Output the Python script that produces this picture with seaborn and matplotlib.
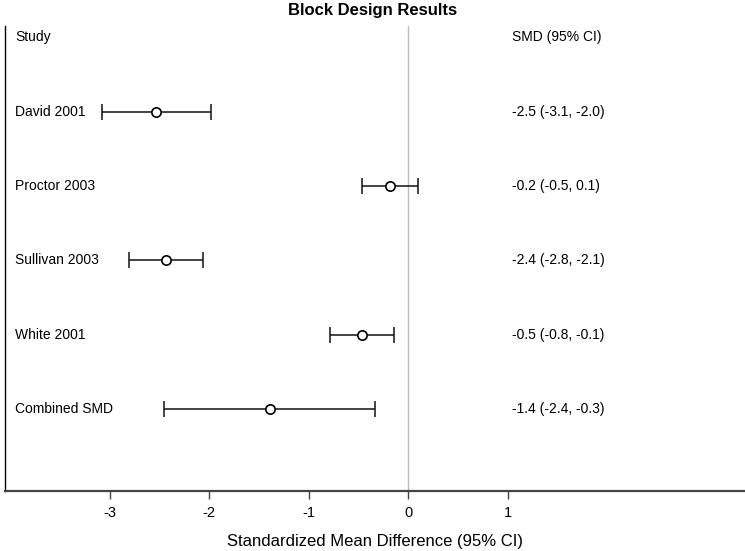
import matplotlib
matplotlib.use("Agg")
import matplotlib.pyplot as plt
import matplotlib.transforms as mtransforms
import seaborn as sns
import pandas as pd

# forest plot data
studies = ["David 2001", "Proctor 2003", "Sullivan 2003", "White 2001", "Combined SMD"]
smd = [-2.53, -0.18, -2.43, -0.47, -1.39]
ci_low = [-3.08, -0.47, -2.80, -0.79, -2.45]
ci_high = [-1.98, 0.10, -2.06, -0.14, -0.33]
ci_text = ["-2.5 (-3.1, -2.0)", "-0.2 (-0.5, 0.1)", "-2.4 (-2.8, -2.1)",
           "-0.5 (-0.8, -0.1)", "-1.4 (-2.4, -0.3)"]
xticks = [-3, -2, -1, 0, 1]

df = pd.DataFrame({"study": studies, "smd": smd, "lo": ci_low, "hi": ci_high,
                   "row": range(1, len(studies) + 1)})

sns.set_theme(style="white")
plt.rcParams['font.family'] = ['Liberation Sans', 'DejaVu Sans']
plt.rcParams['text.color'] = 'black'
plt.rcParams['axes.labelcolor'] = 'black'
plt.rcParams['xtick.color'] = 'black'

fig = plt.figure(figsize=(7.45, 5.51), dpi=100)
ax = fig.add_axes([5 / 745, 1 - 491 / 551, 740 / 745, (491 - 26) / 551])

ax.axvline(0, color='#bbbbbb', lw=1, zorder=0)
ax.errorbar(df['smd'], df['row'],
            xerr=[df['smd'] - df['lo'], df['hi'] - df['smd']],
            fmt='none', ecolor='#111111', elinewidth=1.1, capsize=6, capthick=1.1)
sns.scatterplot(data=df, x='smd', y='row', ax=ax, marker='o', s=45,
                facecolor='white', edgecolor='black', linewidth=1.2, zorder=3)

ax.set_xlim(-4.05, 3.38)
ax.set_ylim(6.1, -0.15)
ax.set_xticks(xticks)
ax.set_xticklabels([str(t) for t in xticks])
ax.set_yticks([])
ax.set_ylabel('')
ax.set_xlabel('Standardized Mean Difference (95% CI)', fontsize=12, labelpad=10)
ax.tick_params(axis='x', which='major', bottom=True, direction='out',
               length=6, width=1, color='#444444', labelcolor='black',
               labelsize=10.5, pad=5)

trans = mtransforms.blended_transform_factory(ax.transAxes, ax.transData)
ax.text(0.0135, 0, 'Study', transform=trans, va='center', ha='left', fontsize=10)
ax.text(1.04, 0, 'SMD (95% CI)', va='center', ha='left', fontsize=10)
for r, name, lab in zip(df['row'], studies, ci_text):
    ax.text(0.0135, r, name, transform=trans, va='center', ha='left', fontsize=10)
    ax.text(1.04, r, lab, va='center', ha='left', fontsize=10)

sns.despine(ax=ax, top=True, right=True)
ax.spines['left'].set_color('black')
ax.spines['left'].set_linewidth(1)
ax.spines['bottom'].set_color('#444444')
ax.spines['bottom'].set_linewidth(1.6)

fig.text(0.5, 1 - 10 / 551, 'Block Design Results', ha='center', va='center',
         fontsize=12, fontweight='bold')

fig.savefig('out.png', dpi=100)
